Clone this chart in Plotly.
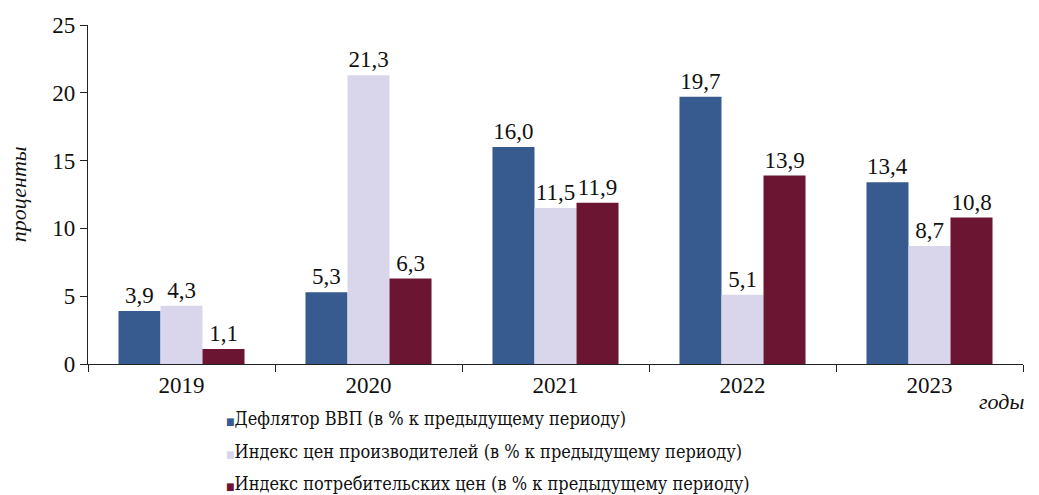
import plotly.graph_objects as go

years = ["2019", "2020", "2021", "2022", "2023"]
gdp_deflator = [3.9, 5.3, 16.0, 19.7, 13.4]
producer_prices = [4.3, 21.3, 11.5, 5.1, 8.7]
consumer_prices = [1.1, 6.3, 11.9, 13.9, 10.8]

series_names = [
    "Дефлятор ВВП (в % к предыдущему периоду)",
    "Индекс цен производителей (в % к предыдущему периоду)",
    "Индекс потребительских цен (в % к предыдущему периоду)",
]
colors = ["#375B8F", "#D9D6EB", "#6B1532"]

FONT = "Liberation Serif"
# serif face with Cyrillic glyphs for the legend lines
LEGEND_FONT = "DejaVu Serif Condensed, DejaVu Serif, serif"
TXT = "#111111"

# legend block placement (paper coordinates), one row per series
LEGEND_X = 0.1455
LEGEND_ROWS_Y = [-0.162, -0.258, -0.352]


def fmt(v):
    return f"{v:.1f}".replace(".", ",")


fig = go.Figure()
for name, vals, col in zip(series_names, [gdp_deflator, producer_prices, consumer_prices], colors):
    fig.add_trace(go.Bar(
        x=years, y=vals, name=name,
        marker=dict(color=col, line=dict(width=0)),
        text=[fmt(v) for v in vals],
        textposition="outside",
        textfont=dict(family=FONT, size=23, color=TXT),
        constraintext="none",
        cliponaxis=False,
        hoverinfo="skip",
        showlegend=False,
    ))

annotations = [
    dict(
        text="<i>проценты</i>", xref="paper", yref="paper",
        x=-0.074, y=0.5, xanchor="center", yanchor="middle", textangle=-90,
        showarrow=False, font=dict(family=FONT, size=22, color=TXT),
    ),
    dict(
        text="<i>годы</i>", xref="paper", yref="paper",
        x=1.003, y=-0.112, xanchor="right", yanchor="middle",
        showarrow=False, font=dict(family=FONT, size=22, color=TXT),
    ),
]
# legend: small coloured square followed by the series name
for name, col, ly in zip(series_names, colors, LEGEND_ROWS_Y):
    annotations.append(dict(
        text=f"<span style='color:{col};font-size:10px'>■</span>{name}",
        xref="paper", yref="paper", x=LEGEND_X, y=ly,
        xanchor="left", yanchor="middle", showarrow=False,
        font=dict(family=LEGEND_FONT, size=18, color=TXT),
    ))

fig.update_layout(
    width=1039, height=495,
    margin=dict(l=88, r=16, t=25, b=131, autoexpand=False),
    paper_bgcolor="white", plot_bgcolor="white",
    barmode="group", bargap=0.326, bargroupgap=0,
    font=dict(family=FONT, size=22, color=TXT),
    showlegend=False,
    xaxis=dict(
        showline=True, linecolor="#222222", linewidth=1.3,
        ticks="outside", ticklen=7, tickcolor="#222222",
        tickson="boundaries", tickangle=0,
        tickfont=dict(family=FONT, size=23, color=TXT),
        showgrid=False, zeroline=False,
    ),
    yaxis=dict(
        range=[0, 25], dtick=5,
        showline=True, linecolor="#222222", linewidth=1.3,
        ticks="outside", ticklen=7, tickcolor="#222222",
        tickfont=dict(family=FONT, size=23, color=TXT),
        showgrid=False, zeroline=False,
    ),
    annotations=annotations,
)

fig.write_html("out.html")
